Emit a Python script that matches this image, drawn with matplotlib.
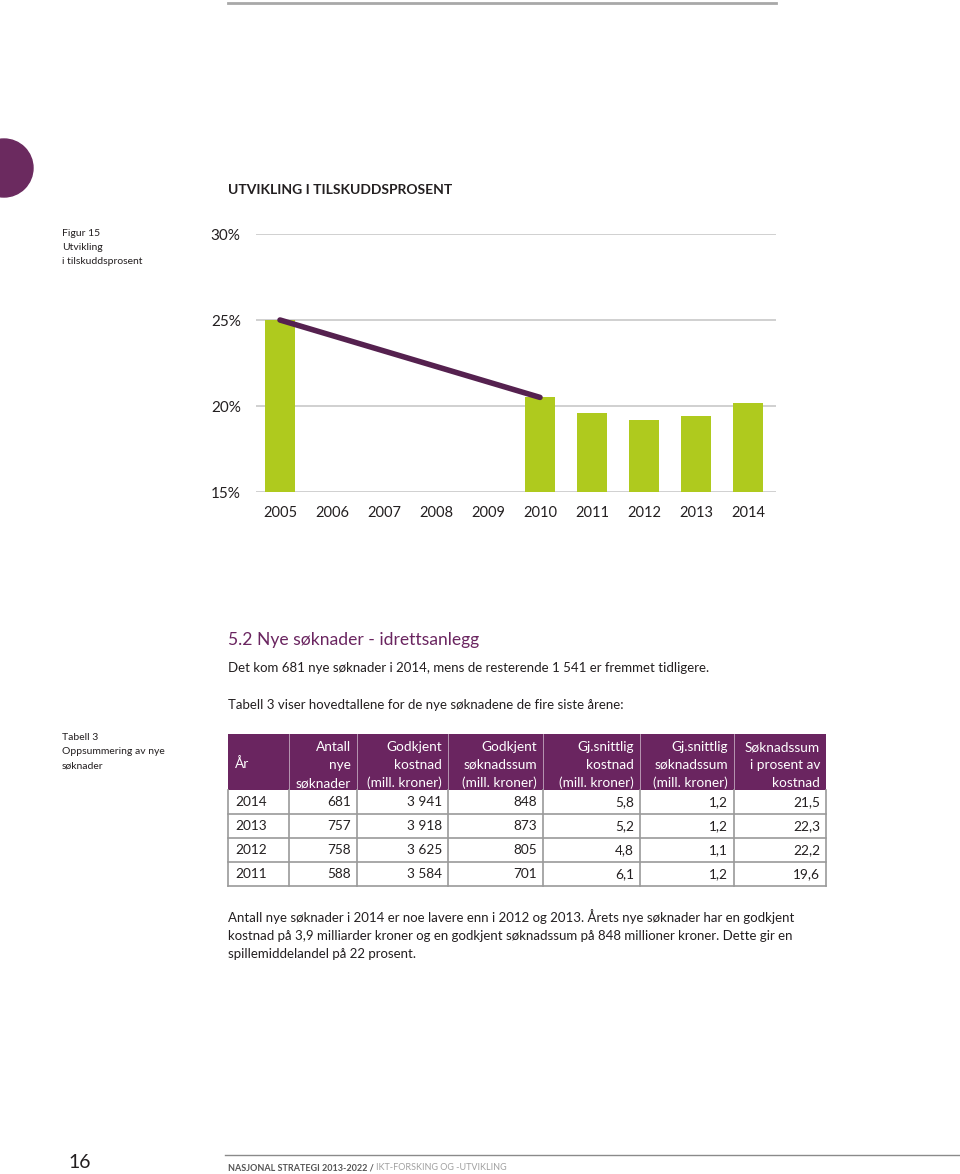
import matplotlib
matplotlib.use("Agg")
import matplotlib.pyplot as plt
import matplotlib.patches as patch

plt.rcParams['font.family'] = ['Lato', 'DejaVu Sans']

# chart data
years = ['2005', '2006', '2007', '2008', '2009', '2010', '2011', '2012', '2013', '2014']
bar_values = [25.0, None, None, None, None, 20.5, 19.6, 19.2, 19.4, 20.2]
line_years = ['2005', '2010']
line_values = [25.0, 20.5]
y_ticks = [15, 20, 25, 30]

# table data
col_headers = ['År', 'Antall\nnye\nsøknader', 'Godkjent\nkostnad\n(mill. kroner)',
               'Godkjent\nsøknadssum\n(mill. kroner)', 'Gj.snittlig\nkostnad\n(mill. kroner)',
               'Gj.snittlig\nsøknadssum\n(mill. kroner)', 'Søknadssum\ni prosent av\nkostnad']
tab_years = ['2014', '2013', '2012', '2011']
antall = ['681', '757', '758', '588']
godkj_kostnad = ['3 941', '3 918', '3 625', '3 584']
godkj_sum = ['848', '873', '805', '701']
snitt_kostnad = ['5,8', '5,2', '4,8', '6,1']
snitt_sum = ['1,2', '1,2', '1,1', '1,2']
prosent = ['21,5', '22,3', '22,2', '19,6']

GREEN = '#afca1e'
LINE_PURPLE = '#55214f'
PURPLE = '#6a2560'
TXT = '#231f20'
W, H = 960, 1174
FS = 9.5

fig = plt.figure(figsize=(W/100, H/100), dpi=100)
bg = fig.add_axes([0, 0, 1, 1])
bg.set_xlim(0, W)
bg.set_ylim(H, 0)
bg.axis('off')

def txt(x, y, s, **kw):
    kw.setdefault('color', TXT)
    kw.setdefault('va', 'center')
    return bg.text(x, y, s, **kw)

# page decorations
bg.plot([228, 776], [3, 3], color='#a8a8a8', lw=2)
bg.add_patch(patch.Circle((4, 168), 29, color='#6b2a5f'))

txt(228, 190, 'UTVIKLING I TILSKUDDSPROSENT', fontsize=10, fontweight='bold')
txt(62, 233, 'Figur 15', fontsize=7.5)
txt(62, 247, 'Utvikling', fontsize=7.5)
txt(62, 261, 'i tilskuddsprosent', fontsize=7.5)

# chart
left, right, top, bottom = 256, 776, 234, 492
ax = fig.add_axes([left/W, 1-bottom/H, (right-left)/W, (bottom-top)/H])
pos = list(range(len(years)))
ax.bar([p for p, v in zip(pos, bar_values) if v is not None],
       [v - 15 for v in bar_values if v is not None], bottom=15,
       width=0.58, color=GREEN, zorder=2)
ax.plot([years.index(y) for y in line_years], line_values, color=LINE_PURPLE,
        lw=4, solid_capstyle='round', zorder=3)
for t in y_ticks:
    ax.axhline(t, color='#c8c8c8', lw=1.2, zorder=1)
ax.set_xlim(-24/52, 9 + 28/52)
ax.set_ylim(15, 30)
ax.set_yticks(y_ticks)
ax.set_yticklabels([f'{t}%' for t in y_ticks], fontsize=11, color=TXT)
ax.set_xticks(pos)
ax.set_xticklabels(years, fontsize=10.5, color=TXT)
ax.tick_params(length=0)
ax.tick_params(axis='y', pad=11)
ax.tick_params(axis='x', pad=10)
for s in ax.spines.values():
    s.set_visible(False)

# section text
txt(228, 640, '5.2 Nye søknader - idrettsanlegg', fontsize=12.6, color='#6a2560')
txt(228, 668, 'Det kom 681 nye søknader i 2014, mens de resterende 1 541 er fremmet tidligere.', fontsize=FS)
txt(228, 705, 'Tabell 3 viser hovedtallene for de nye søknadene de fire siste årene:', fontsize=FS)

txt(62, 738, 'Tabell 3', fontsize=7.5)
txt(62, 752, 'Oppsummering av nye', fontsize=7.5)
txt(62, 766, 'søknader', fontsize=7.5)

# table
cols = [228, 289, 357, 448, 543, 640, 734, 826]
head_top, head_bot = 734, 790
row_h = 24
bg.add_patch(patch.Rectangle((cols[0], head_top), cols[-1]-cols[0], head_bot-head_top,
                             color=PURPLE, lw=0))
for c in cols[1:-1]:
    bg.plot([c, c], [head_top, head_bot], color='#ffffff', lw=0.6, alpha=0.6)
for i, h in enumerate(col_headers):
    if i == 0:
        txt(cols[0] + 7, (head_top+head_bot)/2 + 2, h, fontsize=FS + 0.3, color='white')
    else:
        txt(cols[i+1] - 6, (head_top+head_bot)/2 + 3, h, fontsize=FS + 0.3, color='white',
            ha='right', multialignment='right', linespacing=1.6)

rows = list(zip(tab_years, antall, godkj_kostnad, godkj_sum, snitt_kostnad, snitt_sum, prosent))
body_bot = head_bot + row_h*len(rows)
for r, row in enumerate(rows):
    yc = head_bot + row_h*(r + 0.5) + 0.5
    for i, v in enumerate(row):
        if i == 0:
            txt(cols[0] + 7, yc, v, fontsize=FS + 0.3)
        else:
            txt(cols[i+1] - 6, yc, v, fontsize=FS + 0.3, ha='right')
    bg.plot([cols[0], cols[-1]], [head_bot + row_h*(r+1)]*2, color='#9a9a9a', lw=1.2)
for c in cols:
    bg.plot([c, c], [head_bot, body_bot], color='#9a9a9a', lw=1.2)

# paragraph
txt(228, 917, 'Antall nye søknader i 2014 er noe lavere enn i 2012 og 2013. Årets nye søknader har en godkjent', fontsize=FS)
txt(228, 936, 'kostnad på 3,9 milliarder kroner og en godkjent søknadssum på 848 millioner kroner. Dette gir en', fontsize=FS)
txt(228, 954, 'spillemiddelandel på 22 prosent.', fontsize=FS)

# footer
bg.plot([225, 960], [1155, 1155], color='#8a8a8a', lw=1)
txt(68, 1163, '16', fontsize=14)
f1 = txt(228, 1168, 'NASJONAL STRATEGI 2013-2022 / ', fontsize=6.5, fontweight='bold', color='#555555')
fig.canvas.draw()
bb = f1.get_window_extent()
x2 = bb.x1  # pixels, same as data x
txt(x2, 1168, 'IKT-FORSKING OG -UTVIKLING', fontsize=6.5, color='#a0a0a0')

fig.savefig('out.png', dpi=100)
